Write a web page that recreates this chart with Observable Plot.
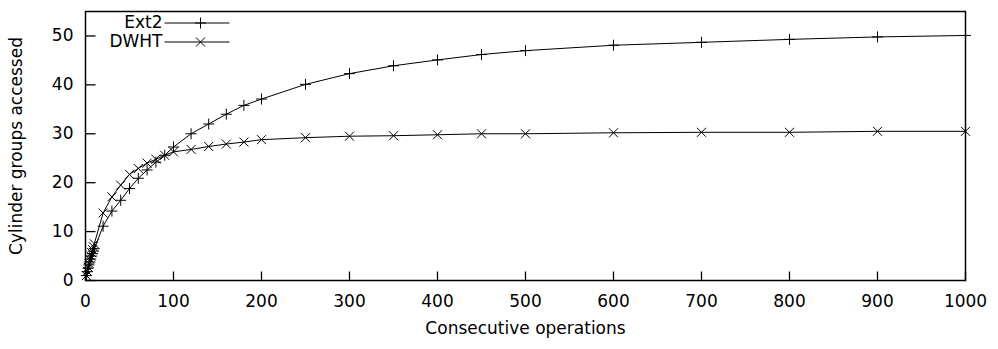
<!DOCTYPE html>
<html>
<head>
<meta charset="utf-8">
<script src="https://cdn.jsdelivr.net/npm/d3@7"></script>
<script src="https://cdn.jsdelivr.net/npm/@observablehq/plot@0.6"></script>
<style>
  html, body { margin: 0; padding: 0; background: #fff; }
  #chart svg { display: block; }
</style>
</head>
<body>
<div id="chart"></div>
<script>
// Data
const ops = [1, 2, 3, 4, 5, 6, 7, 8, 9, 10, 20, 30, 40, 50, 60, 70, 80, 90, 100, 120, 140, 160, 180, 200, 250, 300, 350, 400, 450, 500, 600, 700, 800, 900, 1000];
const ext2 = [1, 1.8, 2.5, 3.2, 3.8, 4.4, 5.0, 5.5, 6.0, 6.5, 11.1, 14.2, 16.4, 18.8, 20.9, 22.6, 24.2, 25.6, 27.3, 30.0, 32.0, 34.0, 35.8, 37.1, 40.1, 42.3, 43.9, 45.1, 46.2, 47.0, 48.1, 48.7, 49.3, 49.8, 50.1];
const dwht = [1, 1.9, 2.7, 3.5, 4.3, 5.0, 5.7, 6.3, 6.9, 7.5, 13.8, 17.1, 19.5, 21.7, 22.9, 24.0, 24.8, 25.6, 26.3, 26.8, 27.4, 27.9, 28.3, 28.8, 29.2, 29.5, 29.6, 29.8, 30.0, 30.0, 30.2, 30.3, 30.3, 30.5, 30.5];
const seriesNames = ["Ext2", "DWHT"];
const xTicks = [0, 100, 200, 300, 400, 500, 600, 700, 800, 900, 1000];
const yTicks = [0, 10, 20, 30, 40, 50];
const xLabel = "Consecutive operations";
const yLabel = "Cylinder groups accessed";

const ext2Data = ops.map((x, i) => ({x, y: ext2[i]}));
const dwhtData = ops.map((x, i) => ({x, y: dwht[i]}));

// Symbols (gnuplot-style point types)
const plusSym = {draw(c) { const r = 5.5; c.moveTo(-r, 0); c.lineTo(r, 0); c.moveTo(0, -r); c.lineTo(0, r); }};
const timesSym = {draw(c) { const r = 4.5; c.moveTo(-r, -r); c.lineTo(r, r); c.moveTo(-r, r); c.lineTo(r, -r); }};
const tickUp = {draw(c) { c.moveTo(0, 0); c.lineTo(0, -9); }};
const tickRight = {draw(c) { c.moveTo(0, 0); c.lineTo(10, 0); }};
const legendLine = {draw(c) { c.moveTo(0, 0); c.lineTo(65, 0); }};

const font = "'DejaVu Sans', sans-serif";

const chart = Plot.plot({
  width: 998,
  height: 349,
  marginLeft: 85,
  marginRight: 33,
  marginTop: 11,
  marginBottom: 69,
  style: {fontFamily: font, fontSize: "17px", background: "#fff", color: "#000"},
  x: {domain: [0, 1000], ticks: xTicks, tickSize: 0, tickPadding: 14, tickFormat: d => String(d), label: null},
  y: {domain: [0, 55], ticks: yTicks, tickSize: 0, tickPadding: 12, tickFormat: d => String(d), label: null},
  marks: [
    Plot.frame({stroke: "#000", strokeWidth: 1.5}),
    Plot.dot(xTicks, {x: d => d, y: 0, symbol: tickUp, stroke: "#000", fill: "none", strokeWidth: 1.3}),
    Plot.dot(yTicks, {x: 0, y: d => d, symbol: tickRight, stroke: "#000", fill: "none", strokeWidth: 1.3}),
    Plot.line(ext2Data, {x: "x", y: "y", stroke: "#000", strokeWidth: 1}),
    Plot.line(dwhtData, {x: "x", y: "y", stroke: "#000", strokeWidth: 1}),
    Plot.dot(ext2Data, {x: "x", y: "y", symbol: plusSym, stroke: "#000", fill: "none", strokeWidth: 1}),
    Plot.dot(dwhtData, {x: "x", y: "y", symbol: timesSym, stroke: "#000", fill: "none", strokeWidth: 1}),
    // Legend
    Plot.text([seriesNames[0]], {frameAnchor: "top-left", dx: 77, dy: 11.5, text: d => d, textAnchor: "end", lineAnchor: "middle", fill: "#000"}),
    Plot.text([seriesNames[1]], {frameAnchor: "top-left", dx: 77, dy: 30.5, text: d => d, textAnchor: "end", lineAnchor: "middle", fill: "#000"}),
    Plot.dot([seriesNames[0]], {frameAnchor: "top-left", dx: 79, dy: 11.5, symbol: legendLine, stroke: "#000", fill: "none", strokeWidth: 1}),
    Plot.dot([seriesNames[1]], {frameAnchor: "top-left", dx: 79, dy: 30.5, symbol: legendLine, stroke: "#000", fill: "none", strokeWidth: 1}),
    Plot.dot([seriesNames[0]], {frameAnchor: "top-left", dx: 115, dy: 11.5, symbol: plusSym, stroke: "#000", fill: "none", strokeWidth: 1}),
    Plot.dot([seriesNames[1]], {frameAnchor: "top-left", dx: 115, dy: 30.5, symbol: timesSym, stroke: "#000", fill: "none", strokeWidth: 1}),
    // Axis titles
    Plot.text([xLabel], {frameAnchor: "bottom", dy: 53, text: d => d, textAnchor: "middle", lineAnchor: "bottom", fill: "#000"}),
    Plot.text([yLabel], {frameAnchor: "left", dx: -64, rotate: -90, text: d => d, textAnchor: "middle", lineAnchor: "bottom", fill: "#000"})
  ]
});

document.getElementById("chart").appendChild(chart);
</script>
</body>
</html>
